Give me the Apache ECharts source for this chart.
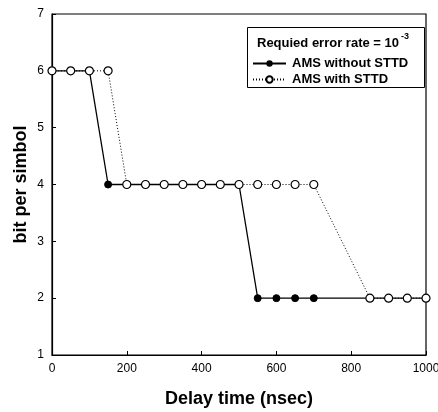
<!DOCTYPE html>
<html><head><meta charset="utf-8">
<script src="https://cdn.jsdelivr.net/npm/echarts@6/dist/echarts.min.js"></script>
<style>html,body{margin:0;padding:0;background:#fff}#c{width:438px;height:412px}</style>
</head><body><div id="c"></div>
<script>
const delayNoSTTD = [0,50,100,150,200,250,300,350,400,450,500,550,600,650,700,850,900,950,1000];
const bpsNoSTTD   = [6,6,6,4,4,4,4,4,4,4,4,2,2,2,2,2,2,2,2];
const delaySTTD = [0,50,100,150,200,250,300,350,400,450,500,550,600,650,700,850,900,950,1000];
const bpsSTTD   = [6,6,6,6,4,4,4,4,4,4,4,4,4,4,4,2,2,2,2];
const xTicks = [0,200,400,600,800,1000];
const yTicks = [1,2,3,4,5,6,7];
const seriesNames = ['AMS without STTD','AMS with STTD'];
const legendTitle = 'Requied error rate = 10';

const FONT = 'Liberation Sans, Arial, sans-serif';
const chart = echarts.init(document.getElementById('c'));
chart.setOption({
  animation:false,
  grid:{left:52,right:12,top:14,bottom:57,outerBoundsMode:'none',containLabel:false,show:true,borderColor:'#000',borderWidth:1.2,backgroundColor:'transparent'},
  xAxis:{type:'value',min:0,max:1000,interval:200,
    name:'Delay time (nsec)',nameLocation:'middle',nameGap:35,
    nameTextStyle:{fontFamily:FONT,fontWeight:'bold',fontSize:18,color:'#000'},
    axisLine:{lineStyle:{color:'#000',width:1.2}},
    axisTick:{inside:true,length:4,lineStyle:{color:'#000'}},
    axisLabel:{fontFamily:FONT,fontSize:12,color:'#000',margin:8,formatter:v=>String(v)},
    splitLine:{show:false}},
  yAxis:{type:'value',min:1,max:7,interval:1,
    name:'bit per simbol',nameLocation:'middle',nameGap:22,nameMoveOverlap:false,
    nameTextStyle:{fontFamily:FONT,fontWeight:'bold',fontSize:18,color:'#000'},
    axisLine:{lineStyle:{color:'#000',width:1.2}},
    axisTick:{inside:true,length:4,lineStyle:{color:'#000'}},
    axisLabel:{fontFamily:FONT,fontSize:12,color:'#000',margin:8},
    splitLine:{show:false}},
  legend:{orient:'vertical',left:252,top:57,itemGap:3,itemWidth:33,itemHeight:8,
    data:seriesNames,
    textStyle:{fontFamily:FONT,fontWeight:'bold',fontSize:13,color:'#000',padding:[0,0,0,1]},
    padding:0},
  graphic:[
    {type:'rect',shape:{x:247.5,y:27.5,width:177,height:60},style:{fill:'#fff',stroke:'#000',lineWidth:1},z:-1,zlevel:0},
    {type:'text',left:257,top:37,style:{text:legendTitle,font:'bold 13px '+FONT,fill:'#000'}},
    {type:'text',left:401,top:32,style:{text:'-3',font:'bold 9px '+FONT,fill:'#000'}}
  ],
  series:[
    {name:seriesNames[0],type:'line',data:delayNoSTTD.map((d,i)=>[d,bpsNoSTTD[i]]),
      symbol:'circle',symbolSize:7,showAllSymbol:true,
      lineStyle:{color:'#000',width:1.3},itemStyle:{color:'#000',borderColor:'#000'},z:2},
    {name:seriesNames[1],type:'line',data:delaySTTD.map((d,i)=>[d,bpsSTTD[i]]),
      symbol:'circle',symbolSize:8,showAllSymbol:true,
      lineStyle:{color:'#000',width:1,type:[1,2]},itemStyle:{color:'#fff',borderColor:'#000',borderWidth:1.2},z:3}
  ]
});
</script></body></html>
